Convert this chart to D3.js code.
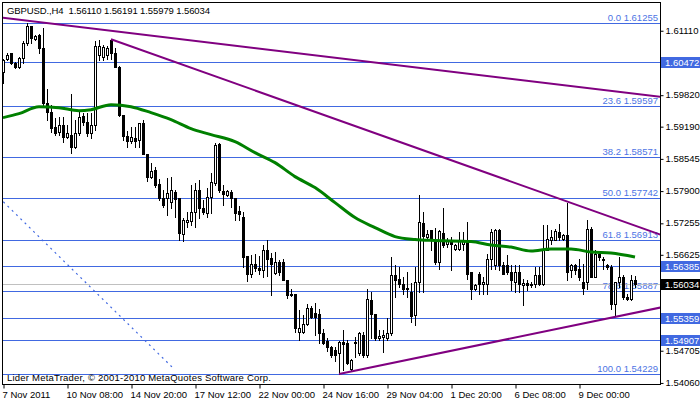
<!DOCTYPE html>
<html><head><meta charset="utf-8">
<script src="https://cdn.jsdelivr.net/npm/d3@7/dist/d3.min.js"></script>
<style>
html,body{margin:0;padding:0;background:#fff;}
svg{display:block;font-family:"Liberation Sans",Arial,sans-serif;}
</style></head><body>
<svg id="chart" width="700" height="402"></svg>
<script>
const opens = [1.6028,1.6054,1.6065,1.6045,1.6038,1.6055,1.6085,1.6119,1.6093,1.6102,1.6075,1.5966,1.5948,1.5918,1.5908,1.5922,1.5897,1.5902,1.5877,1.5905,
1.5940,1.5928,1.5905,1.5922,1.6062,1.6058,1.6062,1.6091,1.6066,1.6038,1.5942,1.5899,1.5890,1.5895,1.5891,1.5926,1.5863,1.5818,1.5831,1.5803,
1.5775,1.5775,1.5768,1.5788,1.5775,1.5704,1.5728,1.5730,1.5748,1.5791,1.5755,1.5746,1.5778,1.5805,1.5883,1.5789,1.5781,1.5788,1.5775,1.5749,
1.5738,1.5659,1.5624,1.5643,1.5636,1.5631,1.5671,1.5656,1.5626,1.5648,1.5648,1.5612,1.5584,1.5583,1.5506,1.5506,1.5523,1.5556,1.5545,1.5544,
1.5505,1.5489,1.5476,1.5471,1.5465,1.5487,1.5484,1.5433,1.5484,1.5464,1.5501,1.5461,1.5572,1.5543,1.5494,1.5497,1.5494,1.5504,1.5621,1.5614,
1.5604,1.5596,1.5588,1.5541,1.5608,1.5726,1.5698,1.5711,1.5691,1.5648,1.5706,1.5683,1.5691,1.5674,1.5674,1.5684,1.5691,1.5628,1.5594,1.5624,
1.5603,1.5604,1.5654,1.5641,1.5711,1.5641,1.5641,1.5628,1.5608,1.5628,1.5601,1.5606,1.5601,1.5604,1.5621,1.5604,1.5672,1.5691,1.5691,1.5708,
1.5694,1.5701,1.5631,1.5641,1.5634,1.5608,1.5608,1.5714,1.5618,1.5663,1.5654,1.5641,1.5638,1.5564,1.5608,1.5618,1.5578,1.5574,1.56110];
const highs = [1.6054,1.6065,1.6066,1.6048,1.6058,1.6089,1.6125,1.6120,1.6102,1.6104,1.6115,1.5993,1.5962,1.5935,1.5938,1.5937,1.5922,1.5984,1.5932,1.5948,
1.5945,1.5945,1.5945,1.6089,1.6091,1.6082,1.6079,1.6093,1.6075,1.6039,1.5942,1.5910,1.5918,1.5918,1.5926,1.5932,1.5863,1.5845,1.5838,1.5813,
1.5791,1.5815,1.5818,1.5791,1.5775,1.5735,1.5748,1.5801,1.5805,1.5811,1.5771,1.5795,1.5825,1.5885,1.5885,1.5801,1.5791,1.5791,1.5775,1.5759,
1.5748,1.5659,1.5661,1.5664,1.5659,1.5681,1.5691,1.5666,1.5668,1.5651,1.5654,1.5612,1.5594,1.5583,1.5551,1.5541,1.5564,1.5559,1.5565,1.5554,
1.5512,1.5494,1.5479,1.5477,1.5489,1.5511,1.5491,1.5452,1.5497,1.5507,1.5507,1.5594,1.5588,1.5544,1.5511,1.5511,1.5534,1.5658,1.5641,1.5638,
1.5618,1.5628,1.5606,1.5638,1.5781,1.5748,1.5711,1.5711,1.5715,1.5711,1.5755,1.5695,1.5698,1.5684,1.5708,1.5708,1.5728,1.5628,1.5604,1.5628,
1.5618,1.5664,1.5714,1.5714,1.5714,1.5648,1.5661,1.5641,1.5641,1.5641,1.5614,1.5611,1.5608,1.5638,1.5638,1.5721,1.5721,1.5711,1.5714,1.5724,
1.5704,1.5766,1.5644,1.5644,1.5654,1.5644,1.5732,1.5718,1.5672,1.5668,1.5658,1.5644,1.5641,1.5608,1.5658,1.5621,1.5584,1.5621,1.56191];
const lows = [1.6005,1.6052,1.6044,1.6035,1.6035,1.6045,1.6082,1.6085,1.6092,1.6065,1.5962,1.5932,1.5908,1.5902,1.5902,1.5888,1.5895,1.5866,1.5875,1.5902,
1.5922,1.5900,1.5895,1.5912,1.6052,1.6052,1.6053,1.6053,1.6037,1.5940,1.5891,1.5878,1.5885,1.5878,1.5878,1.5863,1.5810,1.5815,1.5798,1.5771,
1.5758,1.5741,1.5755,1.5738,1.5691,1.5690,1.5718,1.5721,1.5718,1.5735,1.5743,1.5738,1.5745,1.5801,1.5788,1.5761,1.5779,1.5758,1.5732,1.5732,
1.5638,1.5610,1.5618,1.5630,1.5624,1.5618,1.5619,1.5581,1.5624,1.5621,1.5611,1.5576,1.5579,1.5506,1.5491,1.5504,1.5521,1.5534,1.5501,1.5484,
1.5483,1.5469,1.5457,1.5449,1.5423,1.5431,1.5443,1.5431,1.5457,1.5461,1.5457,1.5457,1.5494,1.5490,1.5491,1.5467,1.5491,1.5501,1.5578,1.5598,
1.5584,1.5578,1.5527,1.5521,1.5588,1.5588,1.5691,1.5671,1.5644,1.5634,1.5678,1.5678,1.5631,1.5671,1.5671,1.5671,1.5614,1.5574,1.5591,1.5584,
1.5584,1.5584,1.5634,1.5634,1.5631,1.5624,1.5624,1.5591,1.5588,1.5588,1.5561,1.5591,1.5598,1.5598,1.5601,1.5601,1.5671,1.5684,1.5691,1.5691,
1.5691,1.5611,1.5618,1.5624,1.5611,1.5584,1.5594,1.5618,1.5618,1.5651,1.5634,1.5634,1.5554,1.5541,1.5598,1.5574,1.5571,1.5571,1.55979];
const closes = [1.6052,1.6062,1.6045,1.6038,1.6055,1.6085,1.6119,1.6095,1.6100,1.6075,1.5965,1.5948,1.5915,1.5905,1.5922,1.5897,1.5905,1.5877,1.5905,1.5938,
1.5928,1.5905,1.5922,1.6079,1.6079,1.6077,1.6075,1.6066,1.6038,1.5942,1.5899,1.5889,1.5897,1.5890,1.5926,1.5863,1.5818,1.5830,1.5801,1.5775,
1.5761,1.5785,1.5791,1.5773,1.5706,1.5731,1.5732,1.5748,1.5791,1.5755,1.5748,1.5778,1.5808,1.5881,1.5791,1.5783,1.5789,1.5775,1.5746,1.5743,
1.5658,1.5624,1.5644,1.5636,1.5631,1.5671,1.5654,1.5644,1.5648,1.5628,1.5612,1.5581,1.5581,1.5514,1.5514,1.5523,1.5556,1.5537,1.5537,1.5505,
1.5485,1.5476,1.5461,1.5461,1.5487,1.5482,1.5445,1.5451,1.5487,1.5504,1.5461,1.5574,1.5544,1.5494,1.5499,1.5500,1.5505,1.5621,1.5611,1.5604,
1.5594,1.5594,1.5539,1.5608,1.5728,1.5699,1.5703,1.5691,1.5648,1.5710,1.5681,1.5690,1.5684,1.5681,1.5691,1.5691,1.5624,1.5594,1.5601,1.5604,
1.5608,1.5654,1.5708,1.5711,1.5641,1.5624,1.5628,1.5611,1.5628,1.5604,1.5606,1.5602,1.5604,1.5621,1.5604,1.5674,1.5694,1.5698,1.5709,1.5698,
1.5701,1.5628,1.5641,1.5631,1.5618,1.5596,1.5714,1.5618,1.5664,1.5658,1.5651,1.5638,1.5564,1.5608,1.5618,1.5578,1.5574,1.5611,1.56034];

const timeLabelBars = [0,16,32,48,64,80,96,112,128,144];
const timeLabels = ["7 Nov 2011","10 Nov 08:00","14 Nov 20:00","17 Nov 12:00","22 Nov 00:00","24 Nov 16:00","29 Nov 04:00","1 Dec 20:00","6 Dec 08:00","9 Dec 00:00"];
const priceTicks = [1.61110,1.59820,1.59190,1.58545,1.57900,1.57255,1.56625,1.54705,1.54060];
const fiboLevels = ["0.0","23.6","38.2","50.0","61.8","78.6","100.0"];
const fiboPrices = [1.61255,1.59597,1.58571,1.57742,1.56913,1.55887,1.54229];
const hLines = [1.60472,1.56385,1.55359,1.54907];
const bidPrice = 1.56034;
const maBars = [0,4,9,14,19,22,27,32,37,42,47,52,58,63,68,73,78,83,88,93,98,103,108,117,122,127,132,137,142,147,152,158];
const maValues = [1.5936,1.5944,1.5958,1.5956,1.5950,1.5952,1.5962,1.5958,1.5946,1.5932,1.5914,1.5902,1.5888,1.5866,1.5846,1.5818,1.5796,1.5766,1.5736,1.5716,1.5698,1.5692,1.5690,1.5688,1.5681,1.5677,1.5669,1.5673,1.5673,1.5667,1.5665,1.5657];
const trendBars = [[-1,165],[27,165],[84,165]];
const trendPrices = [[1.6137,1.5977],[1.6093,1.5700],[1.5423,1.5557]];
const fiboLineBars = [-1,42.5];
const fiboLinePrices = [1.5776,1.5435];
const titleText = "GBPUSD.,H4  1.56110 1.56191 1.55979 1.56034";
const footerText = "Lider MetaTrader, \u00A9 2001-2010 MetaQuotes Software Corp.";

const W = 700, H = 402;
const plot = {l:2, t:2, r:660, b:384};
const FS = 9.5;
const blue = "#4169E1", fiboText = "#4d74e4", purple = "#800080", green = "#008000";

const svg = d3.select("#chart");
const x = d3.scaleLinear().domain([0,158]).range([3,635]);
const y = d3.scaleLinear().domain([1.54229,1.61255]).range([374,23]);
const py = v => Math.round(y(v)) + 0.5;

svg.append("defs").append("clipPath").attr("id","clip")
  .append("rect").attr("x",plot.l+1).attr("y",plot.t+1).attr("width",plot.r-plot.l-1).attr("height",plot.b-plot.t-1);
const g = svg.append("g").attr("clip-path","url(#clip)");

// Fibo levels
fiboPrices.forEach((p,k)=>{
  g.append("line").attr("x1",plot.l).attr("x2",plot.r).attr("y1",py(p)).attr("y2",py(p))
    .attr("stroke",blue).attr("stroke-width",1);
  g.append("text").attr("x",658).attr("y",Math.round(y(p))-2.5).attr("text-anchor","end")
    .attr("font-size",FS).attr("fill",fiboText).text(fiboLevels[k]+" "+d3.format(".5f")(p));
});
// horizontal lines
hLines.forEach(p=>{
  g.append("line").attr("x1",plot.l).attr("x2",plot.r).attr("y1",py(p)).attr("y2",py(p))
    .attr("stroke",blue).attr("stroke-width",1);
});
// bid line
g.append("line").attr("x1",plot.l).attr("x2",plot.r).attr("y1",py(bidPrice)).attr("y2",py(bidPrice))
  .attr("stroke","#c0c0c0").attr("stroke-width",1);
// fibo diagonal
g.append("line").attr("x1",x(fiboLineBars[0])).attr("x2",x(fiboLineBars[1]))
  .attr("y1",y(fiboLinePrices[0])).attr("y2",y(fiboLinePrices[1]))
  .attr("stroke",blue).attr("stroke-width",1.2).attr("stroke-dasharray","2,4");

// candles
const bars = d3.range(opens.length).map(i=>({i,o:opens[i],h:highs[i],l:lows[i],c:closes[i]}));
const cg = g.append("g");
cg.selectAll("line.wick").data(bars).join("line").attr("class","wick")
  .attr("x1",d=>x(d.i)+0.5).attr("x2",d=>x(d.i)+0.5)
  .attr("y1",d=>Math.round(y(d.h))).attr("y2",d=>Math.round(y(d.l))+1)
  .attr("stroke","#000").attr("stroke-width",1);
cg.selectAll("rect.body").data(bars).join("rect").attr("class","body")
  .attr("x",d=> d.c>=d.o ? x(d.i)-0.5 : x(d.i)-1)
  .attr("y",d=>{const t=Math.round(y(Math.max(d.o,d.c))); return d.c>=d.o ? t+0.5 : t;})
  .attr("width",d=> d.c>=d.o ? 2 : 3)
  .attr("height",d=>{const t=Math.round(y(Math.max(d.o,d.c))), b=Math.round(y(Math.min(d.o,d.c)));
     return d.c>=d.o ? Math.max(b-t,0) : Math.max(b-t+1,1);})
  .attr("fill",d=>d.c>=d.o?"#fff":"#000")
  .attr("stroke",d=>d.c>=d.o?"#000":"none").attr("stroke-width",1);

// moving average
const maLine = d3.line().x(d=>x(d[0])).y(d=>y(d[1])).curve(d3.curveMonotoneX);
g.append("path").datum(maBars.map((b,k)=>[b,maValues[k]])).attr("d",maLine)
  .attr("fill","none").attr("stroke",green).attr("stroke-width",3);

// trend lines
trendBars.forEach((tb,k)=>{
  g.append("line").attr("x1",x(tb[0])).attr("x2",x(tb[1]))
    .attr("y1",y(trendPrices[k][0])).attr("y2",y(trendPrices[k][1]))
    .attr("stroke",purple).attr("stroke-width",2);
});

// frame
svg.append("rect").attr("x",plot.l+0.5).attr("y",plot.t+0.5).attr("width",plot.r-plot.l).attr("height",plot.b-plot.t)
  .attr("fill","none").attr("stroke","#000").attr("stroke-width",1);

// bottom axis
const xAxis = d3.axisBottom(x).tickValues(timeLabelBars).tickFormat((d,k)=>timeLabels[k]).tickSize(4).tickPadding(2);
const xa = svg.append("g").attr("transform",`translate(0.5,${plot.b+0.5})`).call(xAxis);
xa.select(".domain").remove();
xa.selectAll("line").attr("stroke","#000");
xa.selectAll("text").attr("text-anchor","start").attr("font-size",FS).attr("font-family","Liberation Sans, Arial, sans-serif")
  .attr("fill","#000").attr("dx",-1.5).attr("dy",null).attr("y",13);

// right axis
const yAxis = d3.axisRight(y).tickValues(priceTicks).tickFormat(d3.format(".5f")).tickSize(3).tickPadding(2);
const ya = svg.append("g").attr("transform",`translate(${plot.r+0.5},0.5)`).call(yAxis);
ya.select(".domain").remove();
ya.selectAll("line").attr("stroke","#000");
ya.selectAll("text").attr("font-size",FS).attr("font-family","Liberation Sans, Arial, sans-serif").attr("fill","#000").attr("x",5).attr("dy","0.25em");

// boxed labels
function boxLabel(p, fill){
  const cy = Math.round(y(p));
  svg.append("rect").attr("x",661).attr("y",cy-5).attr("width",39).attr("height",11).attr("fill",fill);
  svg.append("text").attr("x",665).attr("y",cy+3.5).attr("font-size",FS).attr("fill","#fff").text(d3.format(".5f")(p));
}
hLines.forEach(p=>boxLabel(p, blue));
boxLabel(bidPrice, "#000");

// title and footer
svg.append("text").attr("x",7).attr("y",14).attr("font-size",FS).attr("fill","#000")
  .attr("textLength",203).attr("lengthAdjust","spacing").style("white-space","pre").text(titleText);
svg.append("text").attr("x",7).attr("y",381).attr("font-size",FS).attr("fill","#000")
  .attr("textLength",264).attr("lengthAdjust","spacing").text(footerText);
</script>
</body></html>
